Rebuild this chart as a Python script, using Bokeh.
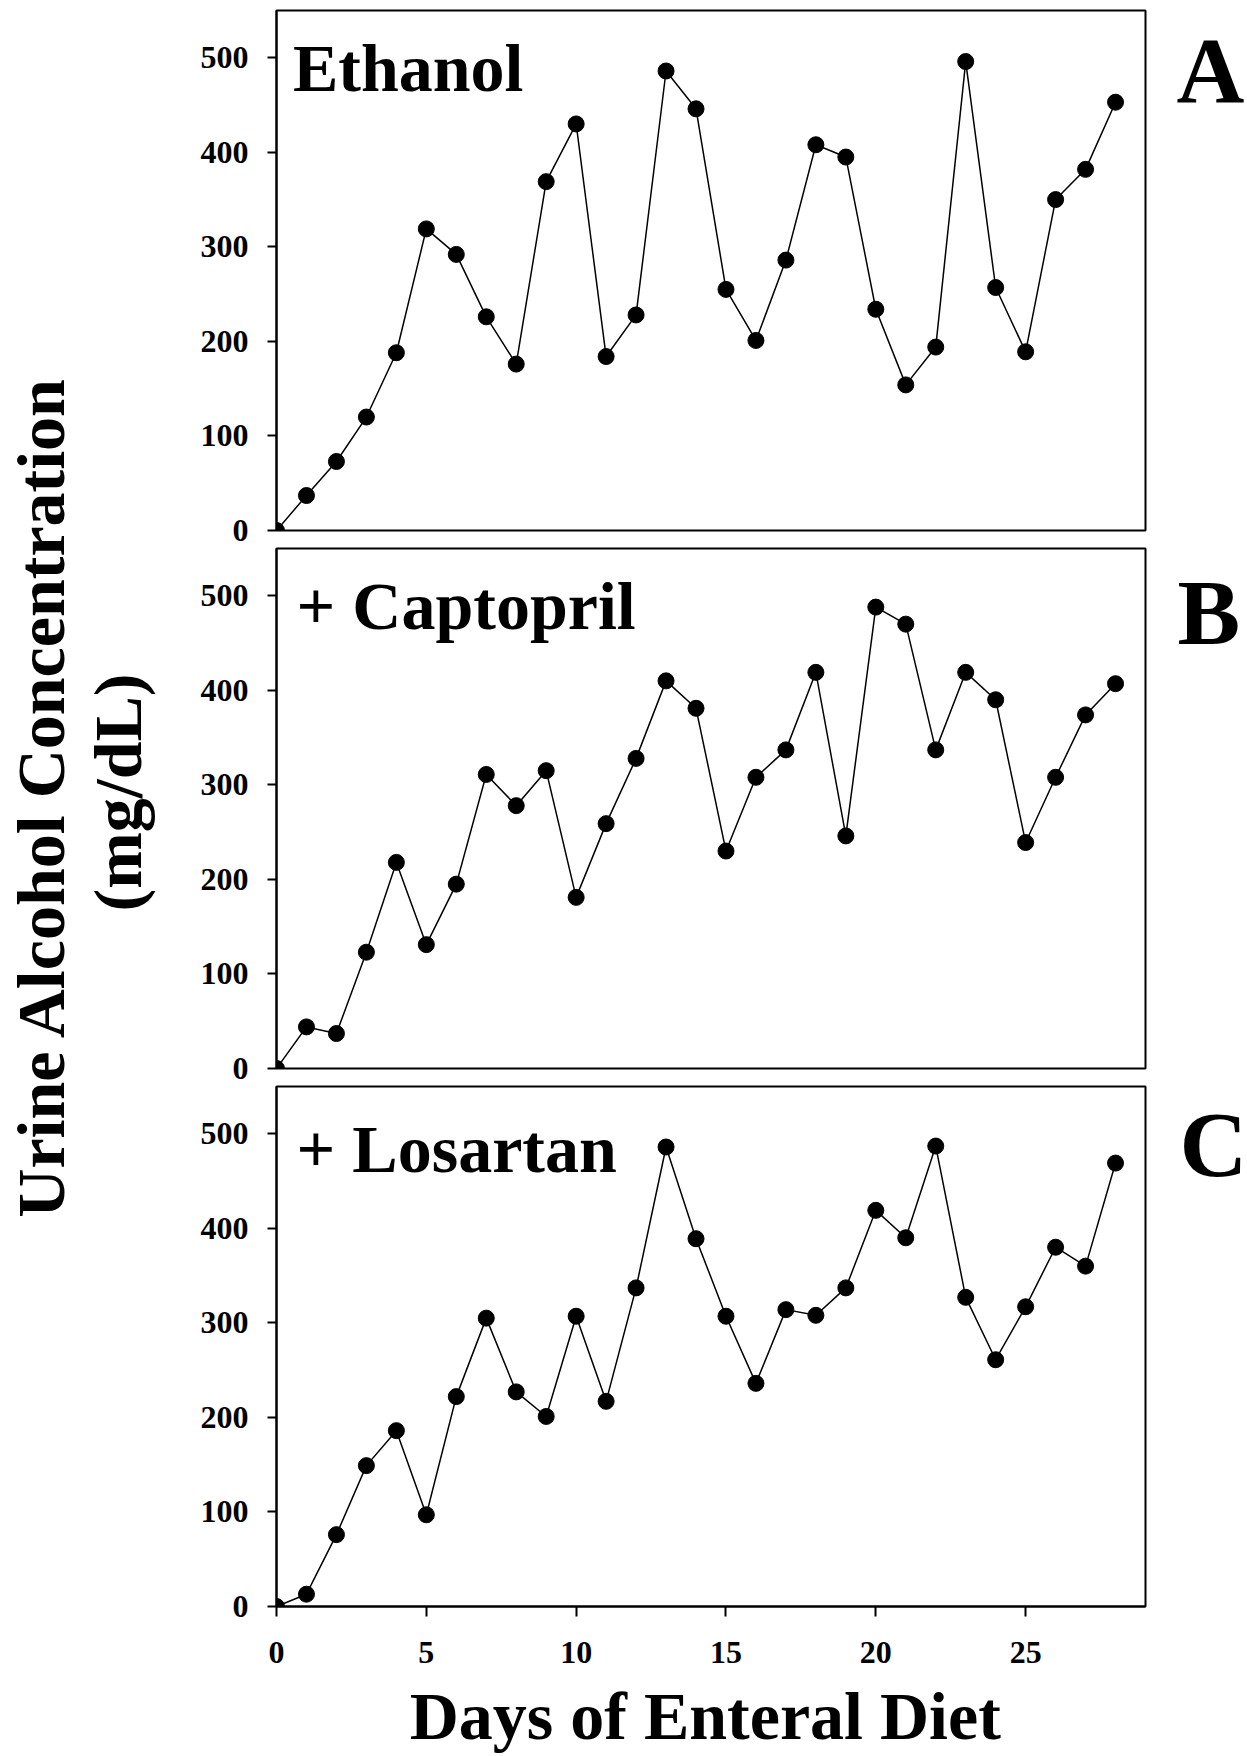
from math import pi
from bokeh.plotting import figure
from bokeh.layouts import row, column
from bokeh.models import Range1d, Label, FixedTicker
from bokeh.embed import file_html
from bokeh.resources import INLINE

# ---------------- data ----------------
days = list(range(29))
ethanol = [0, 37, 73, 120, 188, 319, 292, 226, 176, 369, 430, 184, 228, 486, 446,
           255, 201, 286, 408, 395, 234, 154, 194, 496, 257, 189, 350, 382, 453]
captopril = [0, 44, 37, 123, 218, 131, 195, 311, 278, 315, 181, 259, 328, 410, 381,
             230, 308, 337, 419, 246, 488, 470, 337, 419, 390, 239, 308, 374, 407]
losartan = [0, 13, 76, 149, 186, 97, 222, 305, 227, 201, 307, 217, 337, 486, 389,
            307, 236, 314, 308, 337, 419, 390, 487, 327, 261, 317, 380, 360, 469]
panel_names = ["Ethanol", "+ Captopril", "+ Losartan"]
panel_letters = ["A", "B", "C"]
y_ticks = [0, 100, 200, 300, 400, 500]
x_ticks = [0, 5, 10, 15, 20, 25]
x_title = "Days of Enteral Diet"
y_title_lines = ["Urine Alcohol Concentration", "(mg/dL)"]

FONT = "Liberation Serif"
H = 1754          # total layout height
LEFT_W = 160      # width of the y-title strip
RIGHT_W = 100     # width of the panel-letter strip
FRAME_W = 869
FRAME_H = 520
PANEL_W = 116 + FRAME_W + 2


def make_panel(values, name, name_x, name_y, show_x, top, bottom):
    p = figure(frame_width=FRAME_W, frame_height=FRAME_H,
               x_range=Range1d(0, 29), y_range=Range1d(0, 550),
               output_backend="svg", toolbar_location=None,
               min_border_left=116, min_border_right=2,
               min_border_top=top, min_border_bottom=bottom)
    p.grid.visible = False
    p.outline_line_color = "black"
    p.outline_line_width = 2
    p.background_fill_color = "white"
    p.border_fill_color = "white"

    p.line(days, values, line_color="black", line_width=1.5)
    p.scatter(days, values, size=16, fill_color="black", line_color="black")

    ya = p.yaxis[0]
    ya.ticker = FixedTicker(ticks=y_ticks)
    ya.major_tick_out = 9
    ya.major_tick_in = 0
    ya.minor_tick_out = 0
    ya.minor_tick_in = 0
    ya.axis_line_width = 2
    ya.major_tick_line_width = 2
    ya.major_label_text_font = FONT
    ya.major_label_text_font_style = "bold"
    ya.major_label_text_font_size = "32px"
    ya.major_label_text_color = "black"
    ya.major_label_standoff = 19

    xa = p.xaxis[0]
    if show_x:
        xa.ticker = FixedTicker(ticks=x_ticks)
        xa.major_tick_out = 10
        xa.major_tick_in = 0
        xa.minor_tick_out = 0
        xa.minor_tick_in = 0
        xa.axis_line_width = 2
        xa.major_tick_line_width = 2
        xa.major_label_text_font = FONT
        xa.major_label_text_font_style = "bold"
        xa.major_label_text_font_size = "32px"
        xa.major_label_text_color = "black"
        xa.major_label_standoff = 25
    else:
        xa.visible = False

    p.add_layout(Label(x=name_x, y=name_y, text=name, text_font=FONT,
                       text_font_style="bold", text_font_size="68px",
                       text_color="black", text_align="left",
                       text_baseline="middle"))
    return p


pA = make_panel(ethanol, panel_names[0], 0.55, 488.7, False, 10, 17)
pB = make_panel(captopril, panel_names[1], 0.67, 489.7, False, 1, 17)
pC = make_panel(losartan, panel_names[2], 0.67, 483.4, True, 1, 72)

# x-axis title strip under the panels
XT_H = H - (547 + 538 + 593)
xt = figure(width=PANEL_W, height=XT_H,
            x_range=Range1d(0, PANEL_W), y_range=Range1d(0, XT_H),
            min_border=0, toolbar_location=None, output_backend="svg")
xt.axis.visible = False
xt.grid.visible = False
xt.outline_line_color = None
xt.add_layout(Label(x=487, y=XT_H - (1715 - 1678), text=x_title, text_font=FONT,
                    text_font_style="bold", text_font_size="68px", text_color="black",
                    text_align="center", text_baseline="middle"))

# y-axis title strip on the left
lab = figure(width=LEFT_W, height=H, x_range=Range1d(0, LEFT_W), y_range=Range1d(0, H),
             min_border=0, toolbar_location=None, output_backend="svg")
lab.axis.visible = False
lab.grid.visible = False
lab.outline_line_color = None
lab.add_layout(Label(x=40, y=H - 796, text=y_title_lines[0], angle=pi / 2, text_font=FONT,
                     text_font_style="bold", text_font_size="68px", text_color="black",
                     text_align="center", text_baseline="middle"))
lab.add_layout(Label(x=117, y=H - 792, text=y_title_lines[1], angle=pi / 2, text_font=FONT,
                     text_font_style="bold", text_font_size="68px", text_color="black",
                     text_align="center", text_baseline="middle"))

# panel letters strip on the right
rl = figure(width=RIGHT_W, height=H, x_range=Range1d(0, RIGHT_W), y_range=Range1d(0, H),
            min_border=0, toolbar_location=None, output_backend="svg")
rl.axis.visible = False
rl.grid.visible = False
rl.outline_line_color = None
letter_pos = [(29, 69), (30, 611), (32, 1143)]
for letter, (lx, ly) in zip(panel_letters, letter_pos):
    rl.add_layout(Label(x=lx, y=H - ly, text=letter, text_font=FONT,
                        text_font_style="bold", text_font_size="94px", text_color="black",
                        text_align="left", text_baseline="middle"))

layout = row(lab, column(pA, pB, pC, xt, spacing=0), rl, spacing=0)

open("out.html", "w").write(file_html(layout, INLINE))
